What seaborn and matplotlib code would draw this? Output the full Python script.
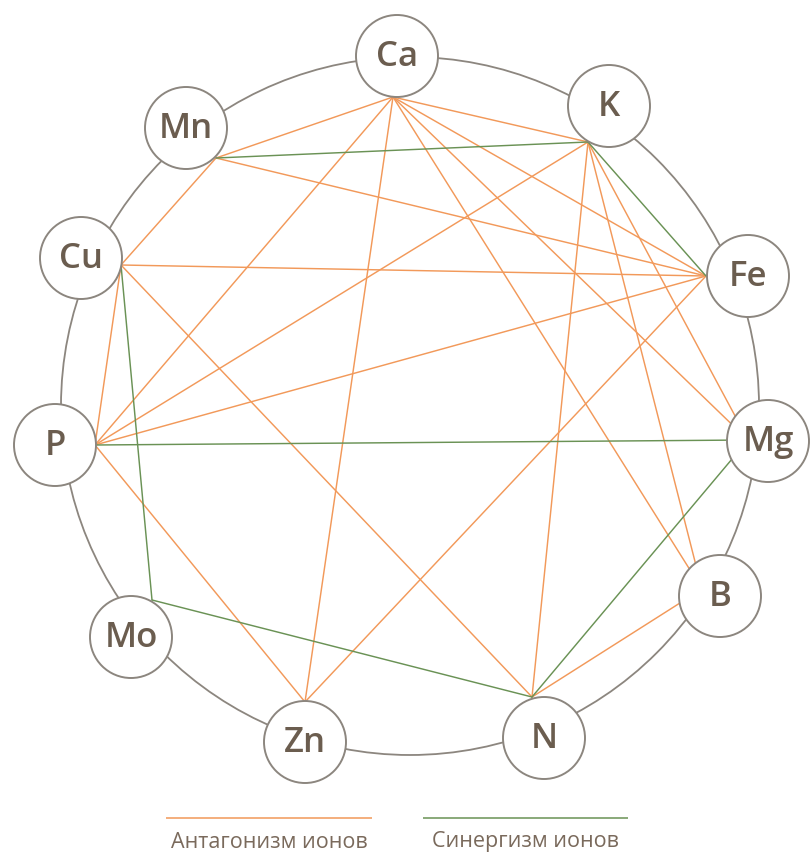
import numpy as np
import pandas as pd
import matplotlib
matplotlib.use("Agg")
import matplotlib.pyplot as plt
import seaborn as sns
from matplotlib.patches import Circle

# ---------------- data ----------------
nodes = ["Ca", "K", "Mn", "Cu", "Fe", "P", "Mg", "B", "Mo", "Zn", "N"]

antagonism = [("Ca", "Mn"), ("Ca", "P"), ("Ca", "Zn"), ("Ca", "K"), ("Ca", "Fe"),
              ("Ca", "Mg"), ("Ca", "B"), ("Mn", "Cu"), ("Mn", "Fe"), ("Cu", "Fe"),
              ("Cu", "P"), ("Cu", "N"), ("P", "K"), ("P", "Fe"), ("P", "Zn"),
              ("K", "N"), ("K", "Mg"), ("K", "B"), ("Fe", "Zn"), ("B", "N")]
synergism = [("Mn", "K"), ("K", "Fe"), ("Cu", "Mo"), ("P", "Mg"), ("Mg", "N"), ("Mo", "N")]

legend_labels = ["Антагонизм ионов", "Синергизм ионов"]

# ---------------- layout (pixel space) ----------------
node_x = [397, 609, 186, 81, 748, 55, 768, 720, 131, 305, 544]
node_y = [56, 106, 128, 258, 276, 445, 441, 596, 637, 742, 738]
hub_x = [393, 588, 216, 121, 706, 95, 748, 702, 152, 305, 532]
hub_y = [97, 142, 158, 265, 276, 445, 440, 589, 600, 702, 697]
node_r = 41
ring_c = (410, 406)
ring_r = 349

ORANGE = "#f2995a"
GREEN = "#6a9255"
GRAY = "#8c867f"
TEXT = "#6b5d4f"

hub = {n: (x, y) for n, x, y in zip(nodes, hub_x, hub_y)}

rows = []
eid = 0
for kind, pairs in (("antagonism", antagonism), ("synergism", synergism)):
    for a, b in pairs:
        for n in (a, b):
            rows.append({"edge": eid, "kind": kind, "x": hub[n][0], "y": hub[n][1]})
        eid += 1
df = pd.DataFrame(rows)

sns.set_theme(style="white")
plt.rcParams["font.family"] = ["Open Sans", "DejaVu Sans"]

fig = plt.figure(figsize=(8.11, 8.56), dpi=100)
ax = fig.add_axes([0, 0, 1, 1])

ax.add_patch(Circle(ring_c, ring_r, fill=False, ec=GRAY, lw=1.3, zorder=1))

sns.lineplot(data=df, x="x", y="y", units="edge", hue="kind", estimator=None,
             sort=False, palette={"antagonism": ORANGE, "synergism": GREEN},
             linewidth=1.05, legend=False, ax=ax, zorder=2)

for n, x, y in zip(nodes, node_x, node_y):
    ax.add_patch(Circle((x, y), node_r, fc="white", ec=GRAY, lw=1.4, zorder=3))
    ax.text(x, y + 1, n, ha="center", va="center", fontsize=25, fontweight=600,
            color=TEXT, zorder=4)

# legend
leg_y = 818
for (x0, x1), col, lab in zip([(166, 372), (423, 628)], [ORANGE, GREEN], legend_labels):
    ax.plot([x0, x1], [leg_y, leg_y], color=col, lw=1.3, alpha=0.85, solid_capstyle="butt")
    ax.text((x0 + x1) / 2, 842, lab, ha="center", va="center", fontsize=15.5,
            color="#7a6a5c")

ax.set_xlim(0, 811)
ax.set_ylim(856, 0)
ax.set_aspect("equal")
ax.axis("off")

fig.savefig("out.png", dpi=100, facecolor="white")
